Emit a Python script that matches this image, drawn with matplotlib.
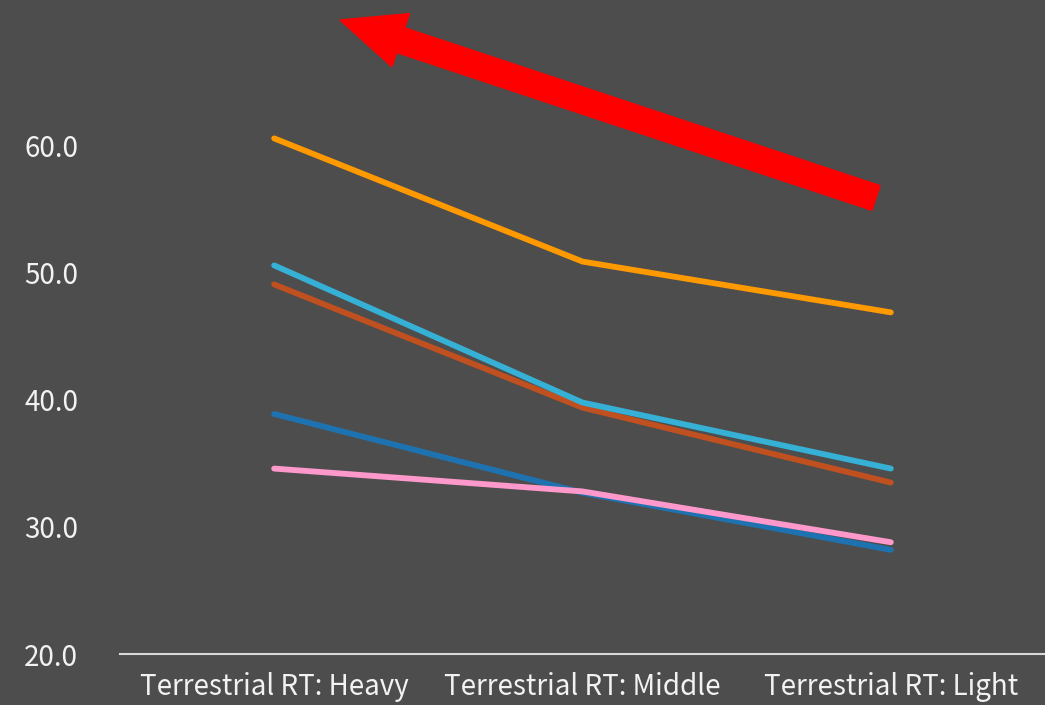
import matplotlib
matplotlib.use("Agg")
import matplotlib.pyplot as plt
from matplotlib.patches import FancyArrow

categories = ["Terrestrial RT: Heavy", "Terrestrial RT: Middle", "Terrestrial RT: Light"]
orange_vals = [60.6, 50.9, 46.9]
cyan_vals = [50.6, 39.8, 34.6]
brown_vals = [49.1, 39.4, 33.5]
blue_vals = [38.9, 32.7, 28.2]
pink_vals = [34.6, 32.8, 28.8]
y_ticks = [20, 30, 40, 50, 60]

bg = "#4d4d4d"
plt.rcParams["font.family"] = ["Noto Sans CJK JP", "DejaVu Sans"]

fig = plt.figure(figsize=(10.45, 7.05), dpi=100, facecolor=bg)
ax = fig.add_axes([120 / 1045, (705 - 654) / 705, 925 / 1045, 635 / 705])
ax.set_facecolor(bg)

x = range(len(categories))
lw = 4.2
ax.plot(x, brown_vals, color="#c0501f", lw=lw, solid_capstyle="round")
ax.plot(x, blue_vals, color="#1f72b0", lw=lw, solid_capstyle="round")
ax.plot(x, cyan_vals, color="#36b0d4", lw=lw, solid_capstyle="round")
ax.plot(x, orange_vals, color="#ff9900", lw=lw, solid_capstyle="round")
ax.plot(x, pink_vals, color="#ff99cc", lw=lw, solid_capstyle="round")

ax.set_xlim(-0.5, 2.5)
ax.set_ylim(20, 70)
ax.set_yticks(y_ticks)
ax.set_yticklabels([f"{v:.1f}" for v in y_ticks])
ax.set_xticks(list(x))
ax.set_xticklabels(categories)
ax.tick_params(axis="both", length=0, colors="#f2f2f2", labelsize=20)
ax.tick_params(axis="y", pad=30)
ax.tick_params(axis="x", pad=13)
for s in ["top", "right", "left"]:
    ax.spines[s].set_visible(False)
ax.spines["bottom"].set_color("#d9d9d9")
ax.spines["bottom"].set_linewidth(1.5)

# Trend arrow, positioned in inches from the lower-left corner of the figure
arrow = FancyArrow(8.76, 7.05 - 1.98, -5.36, 1.78, width=0.26,
                   head_width=0.56, head_length=0.64, length_includes_head=True,
                   color="#ff0000", transform=fig.dpi_scale_trans, clip_on=False)
fig.patches.append(arrow)

fig.savefig("out.png", dpi=100, facecolor=bg)
